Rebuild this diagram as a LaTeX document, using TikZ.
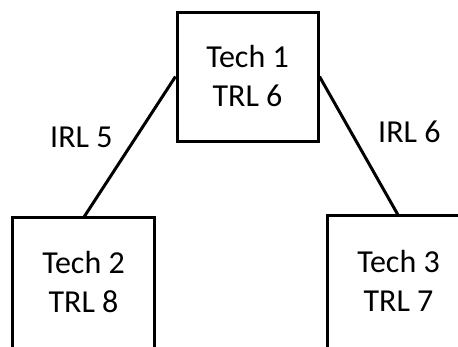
\documentclass[tikz,border=0pt]{standalone}
\usepackage{fontspec}
\setmainfont{Carlito}
\begin{document}
\begin{tikzpicture}[x=1pt,y=-1pt,
  techbox/.style={minimum width=141pt,minimum height=129pt,inner sep=0pt,align=center,font=\fontsize{32}{39}\selectfont},
  outline/.style={line width=3pt},
  lbl/.style={anchor=base west,inner sep=0pt,font=\fontsize{32}{39}\selectfont},
  link/.style={line width=3pt}]
\useasboundingbox (0,0) rectangle (458,346);
\clip (0,0) rectangle (458,346);
\node[techbox,draw=black,line width=3pt] (t1) at (247.5,76.5) {Tech 1\\TRL 6};
\node[techbox] (t2) at (83.5,282.5) {Tech 2\\TRL 8};
\node[techbox] (t3) at (398.5,280.5) {Tech 3\\TRL 7};
\draw[outline] ([yshift=-12pt]t2.south west) |- (t2.north east) -- ([yshift=-12pt]t2.south east);
\draw[outline] ([yshift=-12pt]t3.south west) |- (t3.north east) -- ([yshift=-12pt]t3.south east);
\draw[link] (t1.west) -- (t2.north);
\draw[link] (t1.east) -- (t3.north);
\node[lbl] (l5) at (50,147) {IRL 5};
\node[lbl] (l6) at (378,142) {IRL 6};
\end{tikzpicture}
\end{document}
